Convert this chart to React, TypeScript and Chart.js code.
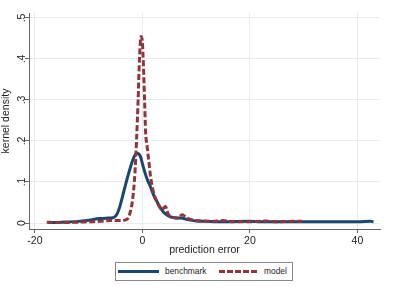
import React, { useEffect, useRef } from "react";
import { Chart, registerables } from "chart.js";

Chart.register(...registerables);

const benchmarkX = [-17.5, -15, -12, -10, -8, -6.5, -5.5, -4.8, -4.2, -3.5, -2.8, -2.2, -1.6, -1.0, -0.4, 0.2, 0.8, 1.5, 2.2, 2.8, 3.4, 3.9, 4.5, 5.2, 6, 7, 8, 9, 10, 12, 15, 20, 22, 25, 30, 35, 40, 42.5, 43];
const benchmarkY = [0.001, 0.002, 0.004, 0.007, 0.011, 0.012, 0.013, 0.02, 0.04, 0.075, 0.11, 0.137, 0.16, 0.17, 0.163, 0.135, 0.11, 0.088, 0.065, 0.05, 0.036, 0.027, 0.02, 0.015, 0.013, 0.012, 0.01, 0.007, 0.005, 0.004, 0.003, 0.004, 0.003, 0.003, 0.003, 0.003, 0.003, 0.004, 0.003];

const modelX = [-17.8, -16, -14, -12, -10, -8, -6, -4, -3, -2.3, -1.8, -1.4, -1.1, -0.8, -0.55, -0.25, 0, 0.2, 0.4, 0.6, 0.85, 1.2, 1.5, 2.1, 3.0, 3.6, 4.3, 4.8, 5.5, 6.5, 7.4, 8.3, 9.5, 11, 13, 15, 17, 20, 23, 25, 28, 29.7];
const modelY = [0.002, 0.001, 0.001, 0.002, 0.003, 0.004, 0.006, 0.006, 0.008, 0.025, 0.06, 0.12, 0.2, 0.3, 0.4, 0.455, 0.44, 0.38, 0.3, 0.22, 0.19, 0.15, 0.115, 0.073, 0.044, 0.033, 0.04, 0.022, 0.014, 0.012, 0.02, 0.012, 0.007, 0.005, 0.004, 0.006, 0.003, 0.003, 0.005, 0.003, 0.004, 0.004];

const xTicks = [-20, 0, 20, 40];
const yTicks = [0, 0.1, 0.2, 0.3, 0.4, 0.5];
const yTickLabels = ["0", ".1", ".2", ".3", ".4", ".5"];

const NAVY = "#1a476f";
const MAROON = "#90353b";
const FONT = "'Liberation Sans', Arial, sans-serif";

export default function App() {
  const ref = useRef<HTMLCanvasElement | null>(null);

  useEffect(() => {
    if (!ref.current) return;
    const chart = new Chart(ref.current, {
      type: "line",
      data: {
        datasets: [
          {
            label: "benchmark",
            data: benchmarkX.map((x, i) => ({ x, y: benchmarkY[i] })),
            borderColor: NAVY,
            borderWidth: 3,
            pointRadius: 0,
            cubicInterpolationMode: "monotone",
            fill: false,
            order: 2,
          },
          {
            label: "model",
            data: modelX.map((x, i) => ({ x, y: modelY[i] })),
            borderColor: MAROON,
            borderWidth: 3,
            borderDash: [6, 2.5],
            pointRadius: 0,
            cubicInterpolationMode: "monotone",
            fill: false,
            order: 1,
          },
        ],
      },
      options: {
        animation: false,
        responsive: false,
        maintainAspectRatio: false,
        layout: { padding: { left: 0, right: 13, top: 13, bottom: 0 } },
        plugins: { legend: { display: false }, tooltip: { enabled: false } },
        scales: {
          x: {
            type: "linear",
            min: -21.1,
            max: 44.2,
            afterBuildTicks: (s: any) => {
              s.ticks = xTicks.map((v) => ({ value: v }));
            },
            afterFit: (s: any) => {
              s.height = 26;
            },
            grid: { color: "#e6ecef", tickColor: "#666", tickLength: 4, lineWidth: 1 },
            border: { color: "#666", width: 1 },
            ticks: {
              color: "#222",
              font: { family: FONT, size: 10.5 },
              padding: 2,
              maxRotation: 0,
              callback: (v: any) => String(v),
            },
            title: {
              display: true,
              text: "prediction error",
              color: "#222",
              font: { family: FONT, size: 10.5, lineHeight: 1 },
              padding: { top: 0, bottom: 0 },
            },
          },
          y: {
            type: "linear",
            min: -0.0146,
            max: 0.512,
            afterBuildTicks: (s: any) => {
              s.ticks = yTicks.map((v) => ({ value: v }));
            },
            afterFit: (s: any) => {
              s.width = 29;
            },
            grid: { color: "#e6ecef", tickColor: "#666", tickLength: 4, lineWidth: 1 },
            border: { color: "#666", width: 1 },
            ticks: {
              color: "#222",
              font: { family: FONT, size: 10.5 },
              padding: -1,
              minRotation: 90,
              maxRotation: 90,
              crossAlign: "center",
              callback: (v: any) => {
                const i = yTicks.findIndex((t) => Math.abs(t - v) < 1e-9);
                return i >= 0 ? yTickLabels[i] : "";
              },
            },
            title: {
              display: true,
              text: "kernel density",
              color: "#222",
              font: { family: FONT, size: 10.5, lineHeight: 1 },
              padding: { top: 1, bottom: 0 },
            },
          },
        },
      },
    } as any);
    return () => chart.destroy();
  }, []);

  return (
    <div style={{ position: "fixed", left: 0, top: 0, width: 393, height: 290, background: "#fff", fontFamily: FONT }}>
      <canvas ref={ref} width={393} height={255} style={{ position: "absolute", left: 0, top: 0, width: 393, height: 255 }} />
      <div
        style={{
          position: "absolute",
          left: 115,
          top: 262,
          width: 176,
          height: 17,
          border: "1px solid #888",
          boxSizing: "content-box",
        }}
      >
        <svg width={176} height={17} style={{ position: "absolute", left: 0, top: 0 }}>
          <line x1={2} y1={8.5} x2={43} y2={8.5} stroke={NAVY} strokeWidth={3} />
          <line x1={103} y1={8.5} x2={143} y2={8.5} stroke={MAROON} strokeWidth={3} strokeDasharray="6 2" />
        </svg>
        <span style={{ position: "absolute", left: 49, top: 3, fontSize: 8.4, color: "#222", lineHeight: "11px" }}>benchmark</span>
        <span style={{ position: "absolute", left: 148, top: 3, fontSize: 8.4, color: "#222", lineHeight: "11px" }}>model</span>
      </div>
    </div>
  );
}
